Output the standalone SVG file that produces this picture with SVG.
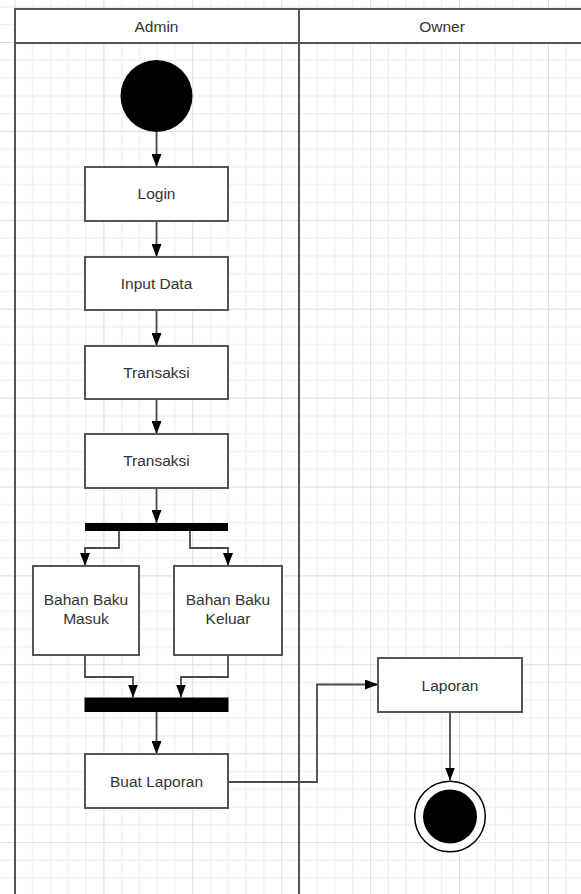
<svg xmlns="http://www.w3.org/2000/svg" width="581" height="894" viewBox="0 0 581 894">
  <defs>
    <pattern id="grid" patternUnits="userSpaceOnUse" x="14.5" y="42" width="88.9" height="88.9">
      <path d="M18.28,0V88.9M36.06,0V88.9M53.84,0V88.9M71.62,0V88.9M0,18.28H88.9M0,36.06H88.9M0,53.84H88.9M0,71.62H88.9" stroke="#ececec" stroke-width="1" fill="none"/>
      <path d="M0.5,0V88.9M0,0.5H88.9" stroke="#dcdcdc" stroke-width="1" fill="none"/>
    </pattern>
    <marker id="arrow" markerUnits="userSpaceOnUse" markerWidth="14" markerHeight="10" refX="13" refY="5" orient="auto">
      <path d="M0,0 L13,5 L0,10 Z" fill="#000"/>
    </marker>
  </defs>
  <style>
    .lane { fill: none; stroke: #555; stroke-width: 2; }
    .box { fill: #fff; stroke: #555; stroke-width: 2; }
    .bar { fill: #000; }
    .conn { fill: none; stroke: #4a4a4a; stroke-width: 1.8; marker-end: url(#arrow); }
    .label { font-family: "Liberation Sans", Arial, sans-serif; font-size: 15.5px; fill: #333; text-anchor: middle; }
  </style>

  <rect x="0" y="0" width="581" height="894" fill="#fff"/>
  <rect x="0" y="0" width="581" height="894" fill="url(#grid)"/>

  <g id="swimlanes">
    <rect x="15" y="9" width="570" height="34" fill="#fff"/>
    <rect class="lane" x="15" y="9" width="570" height="900"/>
    <line class="lane" x1="15" y1="43" x2="585" y2="43"/>
    <line class="lane" x1="299" y1="9" x2="299" y2="894"/>
    <text class="label" x="156.5" y="31.5">Admin</text>
    <text class="label" x="442" y="31.5">Owner</text>
  </g>

  <g id="connectors">
    <path class="conn" d="M156.5,132 V167"/>
    <path class="conn" d="M156.5,221 V257"/>
    <path class="conn" d="M156.5,310 V346"/>
    <path class="conn" d="M156.5,399 V434"/>
    <path class="conn" d="M156.5,488 V523"/>
    <path class="conn" d="M119,531 V548 H85 V566"/>
    <path class="conn" d="M190,531 V548 H228 V566"/>
    <path class="conn" d="M85,655 V677 H133 V697.5"/>
    <path class="conn" d="M228,655 V677 H181 V697.5"/>
    <path class="conn" d="M156.5,712 V754"/>
    <path class="conn" d="M228,782 H317 V684.5 H378"/>
    <path class="conn" d="M450,712 V780.5"/>
  </g>

  <g id="start">
    <circle cx="156.5" cy="96" r="36" fill="#000"/>
  </g>
  <g id="login">
    <rect class="box" x="85" y="167" width="143" height="54"/>
    <text class="label" x="156.5" y="199">Login</text>
  </g>
  <g id="input-data">
    <rect class="box" x="85" y="257" width="143" height="53"/>
    <text class="label" x="156.5" y="288.5">Input Data</text>
  </g>
  <g id="transaksi-1">
    <rect class="box" x="85" y="346" width="143" height="53"/>
    <text class="label" x="156.5" y="378">Transaksi</text>
  </g>
  <g id="transaksi-2">
    <rect class="box" x="85" y="434" width="143" height="54"/>
    <text class="label" x="156.5" y="466">Transaksi</text>
  </g>
  <g id="fork">
    <rect class="bar" x="85" y="523" width="143" height="8"/>
  </g>
  <g id="bahan-baku-masuk">
    <rect class="box" x="33" y="566" width="106" height="89"/>
    <text class="label" x="86" y="605">Bahan Baku</text>
    <text class="label" x="86" y="624">Masuk</text>
  </g>
  <g id="bahan-baku-keluar">
    <rect class="box" x="174" y="566" width="108" height="89"/>
    <text class="label" x="228" y="605">Bahan Baku</text>
    <text class="label" x="228" y="624">Keluar</text>
  </g>
  <g id="join">
    <rect class="bar" x="84.5" y="697.5" width="144" height="14.5"/>
  </g>
  <g id="buat-laporan">
    <rect class="box" x="85" y="754" width="143" height="54"/>
    <text class="label" x="156.5" y="787">Buat Laporan</text>
  </g>
  <g id="laporan">
    <rect class="box" x="378" y="658" width="144" height="54"/>
    <text class="label" x="450" y="690.5">Laporan</text>
  </g>
  <g id="end">
    <circle cx="450" cy="816.5" r="35.3" fill="#fff" stroke="#000" stroke-width="1.5"/>
    <circle cx="450" cy="816.5" r="27" fill="#000"/>
  </g>
</svg>
